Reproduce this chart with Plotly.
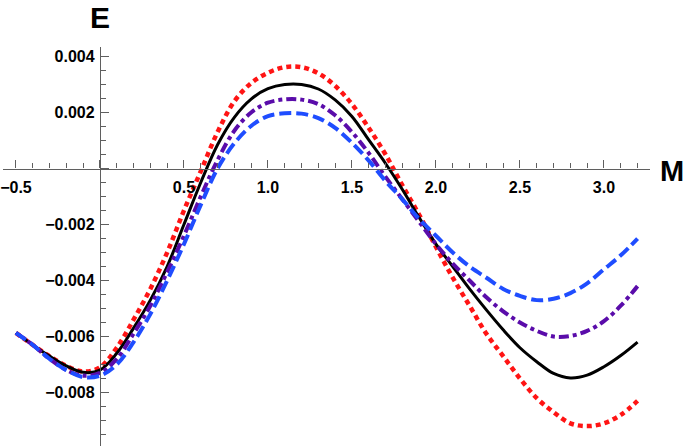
import plotly.graph_objects as go

# ---- data ----
m_vals = [-0.5, -0.4, -0.3, -0.2, -0.1, 0.0, 0.1, 0.2, 0.3, 0.4, 0.5, 0.6, 0.7,
          0.8, 0.9, 1.0, 1.1, 1.2, 1.3, 1.4, 1.5, 1.6, 1.7, 1.8, 1.9, 2.0,
          2.1, 2.2, 2.3, 2.4, 2.5, 2.6, 2.7, 2.8, 2.9, 3.0, 3.1, 3.2]

e_black = [-0.00587, -0.0063, -0.0067, -0.00705, -0.00728, -0.0072, -0.0066, -0.0057,
           -0.0047, -0.0035, -0.0020, -0.0005, 0.00085, 0.00183, 0.00248, 0.00285,
           0.00300, 0.00300, 0.00284, 0.00245, 0.00186, 0.00102, 0.00018, -0.00075,
           -0.00175, -0.0027, -0.0035, -0.0043, -0.00505, -0.00576, -0.0064, -0.0069,
           -0.00732, -0.00748, -0.00738, -0.00708, -0.00668, -0.0062]

e_red = [-0.00587, -0.0063, -0.0067, -0.00705, -0.00725, -0.0071, -0.0064, -0.0054,
         -0.0043, -0.0030, -0.0015, -0.0001, 0.0013, 0.0024, 0.00305, 0.00342,
         0.00362, 0.00362, 0.0034, 0.00295, 0.0023, 0.00145, 0.0005, -0.0006,
         -0.00165, -0.0028, -0.0039, -0.0049, -0.0059, -0.0067, -0.0075, -0.0082,
         -0.0087, -0.0091, -0.0092, -0.0091, -0.0088, -0.0083]

e_purple = [-0.00587, -0.0063, -0.0068, -0.0072, -0.0074, -0.0073, -0.0068, -0.0059,
            -0.0049, -0.0037, -0.0024, -0.0010, 0.0003, 0.00135, 0.0020, 0.00235,
            0.00247, 0.00246, 0.0023, 0.0019, 0.0013, 0.00055, -0.0003, -0.0011,
            -0.0019, -0.0027, -0.0034, -0.0040, -0.0046, -0.0051, -0.0055, -0.0058,
            -0.0060, -0.00598, -0.0058, -0.00545, -0.0049, -0.0042]

e_blue = [-0.00587, -0.0063, -0.0068, -0.0072, -0.00745, -0.0074, -0.0070, -0.0062,
          -0.0052, -0.0040, -0.0027, -0.0013, 0.0000, 0.0009, 0.00152, 0.00187,
          0.00197, 0.00196, 0.0018, 0.00145, 0.00092, 0.00028, -0.00045, -0.0011,
          -0.0018, -0.0024, -0.0030, -0.0035, -0.0039, -0.0043, -0.00455, -0.0047,
          -0.00465, -0.00445, -0.0041, -0.0036, -0.0031, -0.0025]

x_tickvals = [-0.5, 0.0, 0.5, 1.0, 1.5, 2.0, 2.5, 3.0]
x_ticktext = ["\u22120.5", "", "0.5", "1.0", "1.5", "2.0", "2.5", "3.0"]
y_tickvals = [-0.008, -0.006, -0.004, -0.002, 0.0, 0.002, 0.004]
y_ticktext = ["\u22120.008", "\u22120.006", "\u22120.004", "\u22120.002", "", "0.002", "0.004"]

# ---- figure ----
x_range = [-0.577, 3.274]
y_range = [-0.00991, 0.00434]
axis_col = "#5f5f5f"

fig = go.Figure()
fig.add_trace(go.Scatter(x=m_vals, y=e_red, mode="lines", line_shape="spline",
                         line=dict(color="#ff1414", width=4.5, dash="5px,4px")))
fig.add_trace(go.Scatter(x=m_vals, y=e_black, mode="lines", line_shape="spline",
                         line=dict(color="black", width=3)))
fig.add_trace(go.Scatter(x=m_vals, y=e_purple, mode="lines", line_shape="spline",
                         line=dict(color="#5a0caa", width=4, dash="10px,4px,4px,4px")))
fig.add_trace(go.Scatter(x=m_vals, y=e_blue, mode="lines", line_shape="spline",
                         line=dict(color="#1f4dff", width=4, dash="12px,5px")))

tick_font = dict(family="Liberation Sans", size=16, color="black", weight="bold")

L, R, T, B = 3, 35, 47, 0
W, H = 685, 446
pw, ph = W - L - R, H - T - B

fig.update_layout(
    width=W, height=H,
    margin=dict(l=L, r=R, t=T, b=B, pad=0),
    paper_bgcolor="white", plot_bgcolor="white",
    showlegend=False,
    xaxis=dict(
        range=x_range, anchor="free",
        position=(0 - y_range[0]) / (y_range[1] - y_range[0]),
        showgrid=False, zeroline=False, automargin=False,
        showline=True, linecolor=axis_col, linewidth=1.3,
        ticks="inside", ticklen=8, tickwidth=1.3, tickcolor=axis_col,
        tickmode="array", tickvals=x_tickvals, ticktext=x_ticktext,
        tickfont=tick_font, ticklabelstandoff=4,
        minor=dict(tickmode="linear", tick0=0, dtick=0.1, ticks="inside",
                   ticklen=5, tickwidth=1.1, tickcolor=axis_col, showgrid=False),
    ),
    yaxis=dict(
        range=y_range, anchor="free",
        position=(0 - x_range[0]) / (x_range[1] - x_range[0]),
        side="left",
        showgrid=False, zeroline=False, automargin=False,
        showline=True, linecolor=axis_col, linewidth=1.3,
        ticks="inside", ticklen=8, tickwidth=1.3, tickcolor=axis_col,
        tickmode="array", tickvals=y_tickvals, ticktext=y_ticktext,
        tickfont=tick_font, ticklabelstandoff=2,
        minor=dict(tickmode="linear", tick0=0, dtick=0.0005, ticks="inside",
                   ticklen=5, tickwidth=1.1, tickcolor=axis_col, showgrid=False),
    ),
)

# axis titles placed at pixel positions (converted to paper coordinates)
for txt, px, py, size in [("E", 100, 17.5, 30), ("M", 672, 171, 29)]:
    fig.add_annotation(
        text=txt, x=(px - L) / pw, y=(H - B - py) / ph,
        xref="paper", yref="paper", showarrow=False,
        xanchor="center", yanchor="middle",
        font=dict(family="Liberation Sans", size=size, color="black", weight="bold"),
    )

fig.write_html(
    "out.html",
    config={"displayModeBar": False},
    post_script="document.body.style.margin='0';document.body.style.padding='0';"
                "document.body.style.overflow='hidden';",
)
